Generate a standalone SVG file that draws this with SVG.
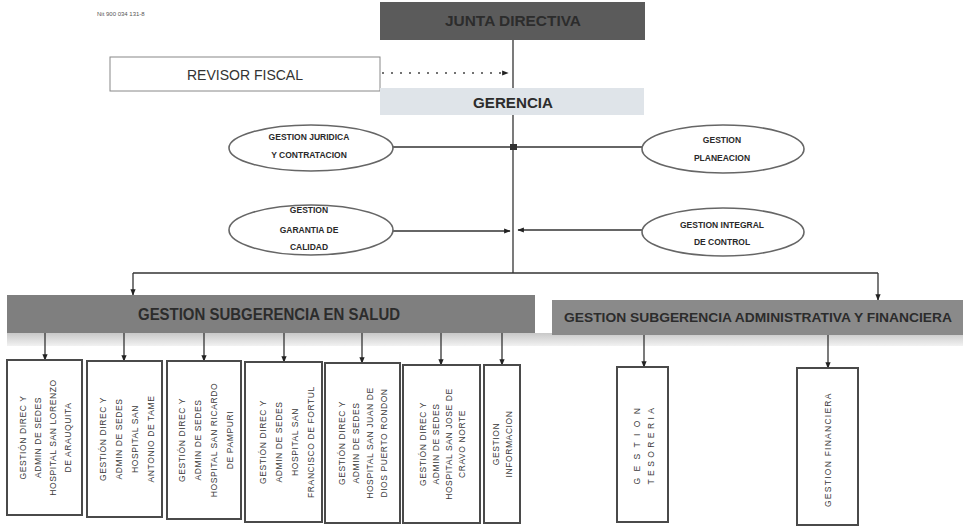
<svg xmlns="http://www.w3.org/2000/svg" width="965" height="529" viewBox="0 0 965 529">
<style>
  .ln{stroke:#333;stroke-width:1.3;fill:none}
  .dot{stroke:#444;stroke-width:1.3;stroke-dasharray:2 7;fill:none}
  .ell{fill:#fff;stroke:#666;stroke-width:1.6}
  .et{font-family:"Liberation Sans",Arial,sans-serif;font-weight:bold;font-size:8.5px;fill:#2a2a2a;text-anchor:middle}
  .box{fill:#fff;stroke:#4a4a4a;stroke-width:2}
  .bt{font-family:"Liberation Sans",Arial,sans-serif;font-size:8.5px;fill:#3a3a3a;text-anchor:middle;letter-spacing:0.6px}
  .hd{font-family:"Liberation Sans",Arial,sans-serif;font-weight:bold;fill:#2c2c2c;text-anchor:middle}
</style>
<defs>
  <marker id="ah" viewBox="0 0 10 10" refX="9" refY="5" markerWidth="5" markerHeight="5" orient="auto">
    <path d="M0,1 L10,5 L0,9 z" fill="#222"/>
  </marker>
  <linearGradient id="shadow" x1="0" y1="0" x2="0" y2="1">
    <stop offset="0" stop-color="#c8c8c8"/>
    <stop offset="1" stop-color="#f2f2f2"/>
  </linearGradient>
</defs>
<rect width="965" height="529" fill="#fff"/>

<text x="97" y="16" font-family="Liberation Sans,Arial,sans-serif" font-size="6" fill="#555">Nit 900 034 131-8</text>

<g id="connectors">
  <line class="ln" x1="513" y1="40" x2="513" y2="88"/>
  <line class="dot" x1="382" y1="73" x2="508" y2="73" marker-end="url(#ah)"/>
  <line class="ln" x1="513" y1="115" x2="513" y2="273"/>
  <line class="ln" x1="393" y1="147" x2="642" y2="147"/>
  <rect x="510" y="144" width="7" height="6" fill="#333"/>
  <line class="ln" x1="393" y1="231" x2="510" y2="231" marker-end="url(#ah)"/>
  <line class="ln" x1="642" y1="230" x2="518" y2="230" marker-end="url(#ah)"/>
  <line class="ln" x1="133" y1="273" x2="878" y2="273"/>
  <line class="ln" x1="133" y1="273" x2="133" y2="295" marker-end="url(#ah)"/>
  <line class="ln" x1="878" y1="273" x2="878" y2="300" marker-end="url(#ah)"/>
  <rect x="7" y="333" width="956" height="13" fill="url(#shadow)"/>
  <line class="ln" x1="45" y1="333" x2="45" y2="360" marker-end="url(#ah)"/>
  <line class="ln" x1="124" y1="333" x2="124" y2="361" marker-end="url(#ah)"/>
  <line class="ln" x1="204" y1="333" x2="204" y2="361" marker-end="url(#ah)"/>
  <line class="ln" x1="284" y1="333" x2="284" y2="362" marker-end="url(#ah)"/>
  <line class="ln" x1="362" y1="333" x2="362" y2="363" marker-end="url(#ah)"/>
  <line class="ln" x1="441" y1="333" x2="441" y2="365" marker-end="url(#ah)"/>
  <line class="ln" x1="502" y1="333" x2="502" y2="365" marker-end="url(#ah)"/>
  <line class="ln" x1="644" y1="335" x2="644" y2="367" marker-end="url(#ah)"/>
  <line class="ln" x1="828" y1="335" x2="828" y2="368" marker-end="url(#ah)"/>
</g>

<g id="junta">
  <rect x="380" y="2" width="265" height="38" fill="#5b5b5b"/>
  <text class="hd" x="513" y="26" font-size="15" textLength="136" lengthAdjust="spacingAndGlyphs">JUNTA DIRECTIVA</text>
</g>
<g id="revisor">
  <rect x="110" y="57" width="270" height="34" fill="#fff" stroke="#888" stroke-width="1"/>
  <text x="245" y="80" text-anchor="middle" font-family="Liberation Sans,Arial,sans-serif" font-size="14" fill="#333" textLength="116" lengthAdjust="spacingAndGlyphs">REVISOR FISCAL</text>
</g>
<g id="gerencia">
  <rect x="380" y="88" width="264" height="27" fill="#dfe4e9"/>
  <text class="hd" x="513" y="108" font-size="14" fill="#333" textLength="80" lengthAdjust="spacingAndGlyphs">GERENCIA</text>
</g>

<g id="juridica">
  <ellipse class="ell" cx="311" cy="148" rx="82" ry="23"/>
  <text class="et" x="309" y="140">GESTION JURIDICA</text>
  <text class="et" x="309" y="158">Y CONTRATACION</text>
</g>
<g id="calidad">
  <ellipse class="ell" cx="311" cy="230" rx="82" ry="25"/>
  <text class="et" x="309" y="213">GESTION</text>
  <text class="et" x="309" y="233">GARANTIA DE</text>
  <text class="et" x="309" y="250">CALIDAD</text>
</g>
<g id="planeacion">
  <ellipse class="ell" cx="723" cy="149" rx="81" ry="24"/>
  <text class="et" x="722" y="143">GESTION</text>
  <text class="et" x="722" y="161">PLANEACION</text>
</g>
<g id="control">
  <ellipse class="ell" cx="723" cy="232" rx="81" ry="24"/>
  <text class="et" x="722" y="228">GESTION INTEGRAL</text>
  <text class="et" x="722" y="245">DE CONTROL</text>
</g>

<g id="salud">
  <rect x="7" y="295" width="528" height="38" fill="#7f7f7f"/>
  <text class="hd" x="269" y="320" font-size="16" textLength="262" lengthAdjust="spacingAndGlyphs">GESTION SUBGERENCIA EN  SALUD</text>
</g>
<g id="administrativa">
  <rect x="552" y="300" width="411" height="35" fill="#8a8a8a"/>
  <text class="hd" x="758" y="322" font-size="13" fill="#363636" textLength="388" lengthAdjust="spacingAndGlyphs">GESTION SUBGERENCIA ADMINISTRATIVA Y FINANCIERA</text>
</g>

<g id="sede1">
  <rect class="box" x="7" y="360" width="75" height="155"/>
  <g transform="translate(44.5,437.5) rotate(-90)">
    <text class="bt" x="0" y="-19">GESTIÓN DIREC Y</text>
    <text class="bt" x="0" y="-4">ADMIN DE SEDES</text>
    <text class="bt" x="0" y="11">HOSPITAL SAN LORENZO</text>
    <text class="bt" x="0" y="26">DE ARAUQUITA</text>
  </g>
</g>
<g id="sede2">
  <rect class="box" x="87" y="361" width="75" height="156"/>
  <g transform="translate(124.5,439) rotate(-90)">
    <text class="bt" x="0" y="-19">GESTIÓN DIREC Y</text>
    <text class="bt" x="0" y="-3">ADMIN DE SEDES</text>
    <text class="bt" x="0" y="13">HOSPITAL SAN</text>
    <text class="bt" x="0" y="29">ANTONIO DE TAME</text>
  </g>
</g>
<g id="sede3">
  <rect class="box" x="167" y="361" width="74" height="158"/>
  <g transform="translate(204,440) rotate(-90)">
    <text class="bt" x="0" y="-19">GESTIÓN DIREC Y</text>
    <text class="bt" x="0" y="-3">ADMIN DE SEDES</text>
    <text class="bt" x="0" y="13">HOSPITAL SAN RICARDO</text>
    <text class="bt" x="0" y="29">DE PAMPURI</text>
  </g>
</g>
<g id="sede4">
  <rect class="box" x="245" y="362" width="77" height="160"/>
  <g transform="translate(283.5,442) rotate(-90)">
    <text class="bt" x="0" y="-18">GESTIÓN DIREC Y</text>
    <text class="bt" x="0" y="-2">ADMIN DE SEDES</text>
    <text class="bt" x="0" y="14">HOSPITAL SAN</text>
    <text class="bt" x="0" y="30">FRANCISCO DE FORTUL</text>
  </g>
</g>
<g id="sede5">
  <rect class="box" x="325" y="363" width="75" height="160"/>
  <g transform="translate(362.5,443) rotate(-90)">
    <text class="bt" x="0" y="-18">GESTIÓN DIREC Y</text>
    <text class="bt" x="0" y="-4">ADMIN DE SEDES</text>
    <text class="bt" x="0" y="10">HOSPITAL SAN JUAN DE</text>
    <text class="bt" x="0" y="24">DIOS   PUERTO RONDON</text>
  </g>
</g>
<g id="sede6">
  <rect class="box" x="403" y="365" width="77" height="158"/>
  <g transform="translate(441.5,444) rotate(-90)">
    <text class="bt" x="0" y="-16">GESTIÓN DIREC Y</text>
    <text class="bt" x="0" y="-3">ADMIN DE SEDES</text>
    <text class="bt" x="0" y="10">HOSPITAL SAN JOSE DE</text>
    <text class="bt" x="0" y="23">CRAVO NORTE</text>
  </g>
</g>
<g id="informacion">
  <rect class="box" x="484" y="365" width="36" height="158"/>
  <g transform="translate(502,444) rotate(-90)">
    <text class="bt" x="0" y="-3" letter-spacing="2">GESTION</text>
    <text class="bt" x="0" y="10" letter-spacing="1">INFORMACION</text>
  </g>
</g>
<g id="tesoreria">
  <rect class="box" x="617" y="367" width="51" height="155"/>
  <g transform="translate(642.5,446) rotate(-90)">
    <text class="bt" x="0" y="-3" textLength="77" lengthAdjust="spacing">GESTION</text>
    <text class="bt" x="0" y="11" textLength="77" lengthAdjust="spacing">TESORERIA</text>
  </g>
</g>
<g id="financiera">
  <rect class="box" x="797" y="368" width="61" height="157"/>
  <g transform="translate(827.5,450) rotate(-90)">
    <text class="bt" x="0" y="3" textLength="114" lengthAdjust="spacing">GESTION FINANCIERA</text>
  </g>
</g>
</svg>
